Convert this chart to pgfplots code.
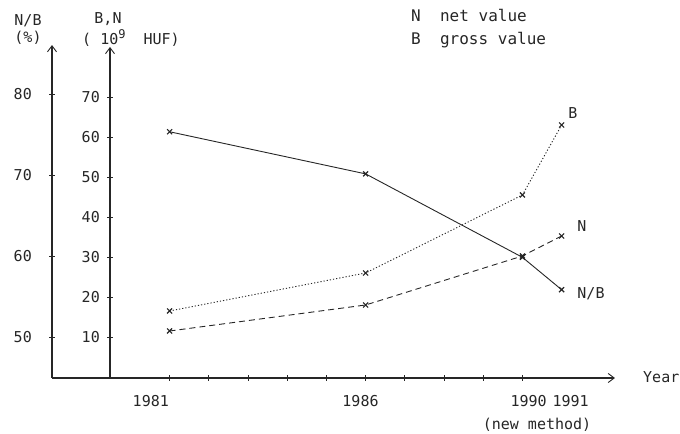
\documentclass[border=0pt]{standalone}
\usepackage{fontspec}
\setmainfont{DejaVu Sans Mono}
\usepackage{pgfplots}
\usetikzlibrary{arrows.meta}
\pgfplotsset{compat=1.18}
\definecolor{ink}{gray}{0.15}
\begin{document}
\fontsize{15bp}{15bp}\selectfont
\begin{tikzpicture}[x=1bp,y=1bp]
\useasboundingbox (0,0) rectangle (680,434);
% ---------- N/B axis (left) ----------
\begin{axis}[
  at={(52bp,56bp)}, anchor=south west,
  x=39.2bp, y=8.1bp,
  xmin=1978, xmax=1992.36, ymin=45, ymax=86.1,
  axis lines=left,
  axis line style={ink, line width=1.1bp, -{Straight Barb[length=6bp,width=9bp,line width=0.9bp]}},
  tick align=center, major tick length=6bp,
  tick style={ink, line width=0.9bp},
  ytick={50,60,70,80},
  yticklabel style={font=\fontsize{15bp}{15bp}\selectfont, text=ink, xshift=-12bp},
  /pgf/number format/assume math mode=true,
  xtick={1981,...,1990},
  xticklabels={},
  extra x ticks={1980.52,1985.87,1990.16,1991.23},
  extra x tick labels={1981,1986,1990,1991},
  extra x tick style={major tick length=0pt, tick style={draw=none},
    xticklabel style={font=\fontsize{15bp}{15bp}\selectfont, text=ink, yshift=-12bp}},
  clip=false,
]
\addplot[ink, line width=0.9bp, mark=x, mark size=3.5bp, mark options={solid, line width=1.2bp}]
  coordinates {(1981,75.4) (1986,70.2) (1990,59.9) (1991,55.9)};
\end{axis}
% ---------- B,N axis ----------
\begin{axis}[
  at={(110bp,57bp)}, anchor=south west,
  x=39.2bp, y=4bp,
  xmin=1979.4796, xmax=1992.36, ymin=0, ymax=82.5,
  axis y line=left, axis x line=none,
  axis line style={ink, line width=1.1bp, -{Straight Barb[length=6bp,width=9bp,line width=0.9bp]}},
  tick align=center, major tick length=6bp,
  tick style={ink, line width=0.9bp},
  ytick={10,20,30,40,50,60,70},
  yticklabel style={font=\fontsize{15bp}{15bp}\selectfont, text=ink, xshift=-2bp},
  /pgf/number format/assume math mode=true,
  clip=false,
]
\addplot[ink, line width=0.9bp, dash pattern=on 1.2bp off 2bp, mark=x, mark size=3.5bp, mark options={solid, line width=1.2bp}]
  coordinates {(1981,16.5) (1986,26) (1990,45.5) (1991,63)};
\addplot[ink, line width=0.9bp, dash pattern=on 6bp off 4bp, mark=x, mark size=3.5bp, mark options={solid, line width=1.2bp}]
  coordinates {(1981,11.5) (1986,18) (1990,30.25) (1991,35.25)};
\end{axis}
% ---------- texts ----------
\begin{scope}[every node/.style={text=ink, inner sep=0pt, font=\fontsize{15bp}{15bp}\selectfont}]
\node at (28,413) {N/B};
\node at (28,396) {(\%)};
\node at (108,415) {B,N};
\node[anchor=west] at (82,396) {(\ 10\raisebox{6bp}{\fontsize{12bp}{12bp}\selectfont 9}\ \ HUF)};
\node[anchor=west, font=\fontsize{16bp}{16bp}\selectfont] at (411,418) {N\ \ net value};
\node[anchor=west, font=\fontsize{16bp}{16bp}\selectfont] at (411,394) {B\ \ gross value};
\node at (573,321) {B};
\node at (582,208) {N};
\node at (591,140) {N/B};
\node[anchor=west] at (643,57) {Year};
\node at (537,9) {(new method)};
\end{scope}
\end{tikzpicture}
\end{document}
